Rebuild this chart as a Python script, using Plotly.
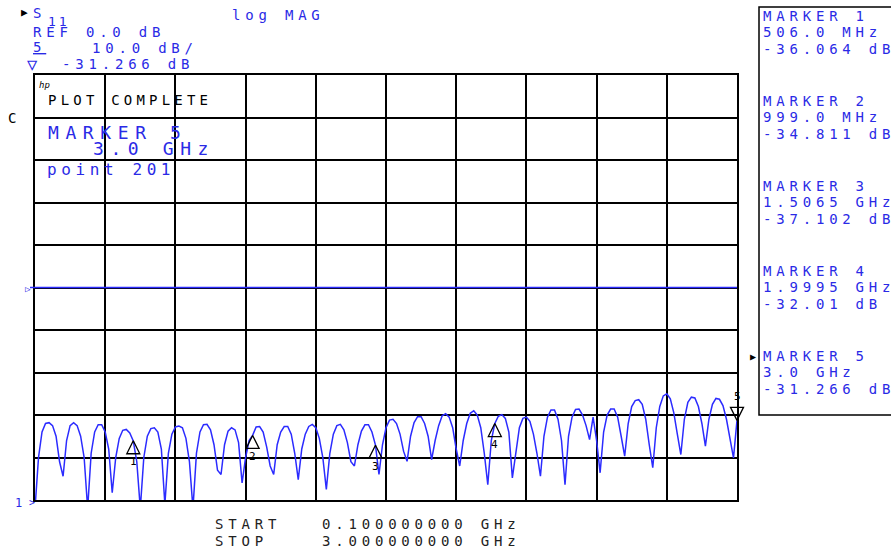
import numpy as np
import plotly.graph_objects as go

# ---------------- data ----------------
START_GHZ = 0.1
STOP_GHZ = 3.0
N_POINTS = 201
freq_ghz = np.linspace(START_GHZ, STOP_GHZ, N_POINTS)

s11_db = [
    -52, -40, -34, -32, -31.8, -32.5, -35, -41, -44.4, -36,
    -32.5, -31.8, -32.5, -35, -40, -52, -39, -34, -32.3, -32.3,
    -34, -38, -48.3, -40, -35.5, -33.6, -33.4, -34.2, -36.1, -41,
    -52, -40, -35, -33.2, -33, -34, -38, -51, -39, -34.5,
    -32.8, -32.6, -33, -35.5, -41, -52, -39, -34, -32.3, -32.2,
    -33.5, -37, -43, -44, -37, -33.8, -33, -33.5, -36.5, -46,
    -40, -36, -34.8, -32.8, -32.7, -34, -37.5, -42, -44, -37,
    -34, -32.7, -32.7, -34.5, -39, -45.2, -38, -34.5, -32.7, -32.2,
    -33, -35.5, -40, -47.5, -39, -34.5, -32.5, -32.2, -33.5, -36.5,
    -41, -42, -37, -33.8, -32.3, -32.3, -34, -37.1, -44, -37,
    -33, -31.2, -31, -32, -34.5, -38.5, -40.9, -35, -31.8, -30.4,
    -30.4, -32, -35, -40.5, -36, -32.5, -30.2, -29.7, -30.5, -33,
    -38, -42, -36, -32, -29.6, -29, -30, -33, -39, -46.4,
    -36, -32, -30.3, -29.9, -30.8, -34, -44.8, -39, -33, -30.8,
    -30.5, -31.5, -34.5, -39, -44.4, -35, -30.5, -28.8, -28.8, -31,
    -36, -46.4, -35, -30.5, -28.7, -28.6, -30, -32.5, -35.8, -30.5,
    -36, -43.6, -34, -30, -28.6, -28.6, -30.5, -35, -39.7, -32,
    -28, -26.6, -26.4, -27.5, -31, -37, -42.4, -33, -28, -25.5,
    -25, -26.2, -29.5, -34.5, -39.3, -31, -27, -25.8, -26, -28,
    -32, -37.3, -31, -27.5, -26.1, -26.3, -27.8, -31, -35.5, -40.1,
    -31.27,
]

marker_ids = ["1", "2", "3", "4", "5"]
marker_freq_ghz = [0.506, 0.999, 1.5065, 1.9995, 3.0]
marker_db = [-36.064, -34.811, -37.102, -32.01, -31.266]
marker_freq_labels = ["506.0 MHz", "999.0 MHz", "1.5065 GHz", "1.9995 GHz", "3.0 GHz"]
marker_db_labels = ["-36.064 dB", "-34.811 dB", "-37.102 dB", "-32.01 dB", "-31.266 dB"]

REF_DB = 0.0
SCALE_DB_PER_DIV = 10.0

# ---------------- style ----------------
BLUE = "#2a2ae6"
TRACE = "#2b2bff"
MONO = "DejaVu Sans Mono"
W, H = 891, 554
L, R, T, B = 35, 737, 75, 500


def px(x):
    return (x - L) / (R - L)


def py(y):
    return (B - y) / (B - T)


fig = go.Figure()

fig.add_trace(go.Scatter(x=freq_ghz, y=s11_db, mode="lines",
                         line=dict(color=TRACE, width=1.5), hoverinfo="skip"))

# markers 1-4 (arrow tip at trace point, body below)
fig.add_trace(go.Scatter(x=marker_freq_ghz[:4], y=marker_db[:4], mode="markers",
                         marker=dict(symbol="arrow-up-open", size=13, color="black",
                                     line=dict(width=1.3, color="black")),
                         cliponaxis=False, hoverinfo="skip"))
# active marker 5 (tip at trace point, body above)
fig.add_trace(go.Scatter(x=marker_freq_ghz[4:], y=marker_db[4:], mode="markers",
                         marker=dict(symbol="arrow-down-open", size=13, color="black",
                                     line=dict(width=1.3, color="black")),
                         cliponaxis=False, hoverinfo="skip"))

for i, (f, d) in enumerate(zip(marker_freq_ghz, marker_db)):
    fig.add_annotation(x=f, y=d, xref="x", yref="y", text=marker_ids[i], showarrow=False,
                       yshift=(24 if i == 4 else -21), font=dict(family=MONO, size=11, color="black"))


def txt(s, x, y, size=14, color=BLUE, sp=4.8, anchor="left"):
    fig.add_annotation(text=f'<span style="letter-spacing:{sp}px">{s}</span>',
                       x=px(x), y=py(y), xref="paper", yref="paper",
                       xanchor=anchor, yanchor="middle", showarrow=False,
                       font=dict(family=MONO, size=size, color=color))


# header
txt("\u25B6", 19, 13, size=11, color="black", sp=0)
txt("S", 31, 13)
txt("11", 46, 21, size=13, sp=3)
txt("log MAG", 230, 15)
txt(f"REF {REF_DB:.1f} dB", 31, 32)
txt('<span style="text-decoration:underline">5</span>', 31, 47)
txt(f"{SCALE_DB_PER_DIV:.1f} dB/", 90, 48)
txt("\u25BD", 25, 64, size=17, sp=0)
txt(marker_db_labels[4], 60, 64)

# left side
txt("C", 6, 118, size=14, color="black", sp=0)
txt("\u25B7", 23, 289, size=9, sp=0)
txt("1", 13, 503, size=12, sp=0)
txt("&gt;", 27, 502, size=10, sp=0)

# in-plot text
txt("<i>hp</i>", 37, 85, size=9, color="black", sp=0)
txt("PLOT COMPLETE", 46, 100, size=14, color="black", sp=4.2)
txt("MARKER " + marker_ids[4], 46, 132, size=18, sp=6.6)
txt(marker_freq_labels[4], 91, 148, size=18, sp=6.6)
txt(f"point {N_POINTS}", 45, 169, size=16, sp=4.6)

# right marker panel
row_y = [16, 101, 186, 271, 356]
for i in range(5):
    txt("MARKER " + marker_ids[i], 761, row_y[i])
    txt(marker_freq_labels[i], 761, row_y[i] + 16)
    txt(marker_db_labels[i], 761, row_y[i] + 33)
txt("\u25B6", 748, 356, size=10, color="black", sp=0)

fig.add_shape(type="rect", xref="paper", yref="paper",
              x0=px(759), x1=px(905), y0=py(415), y1=py(7),
              line=dict(color="black", width=1.5), fillcolor="rgba(0,0,0,0)", layer="above")

# footer
txt("START", 213, 524, color="#222222")
txt(f"{START_GHZ:.9f} GHz", 320, 524, color="#222222")
txt("STOP", 213, 541, color="#222222")
txt(f"{STOP_GHZ:.9f} GHz", 320, 541, color="#222222")

# reference line
fig.add_shape(type="line", xref="paper", yref="y", x0=px(30), x1=1, y0=REF_DB, y1=REF_DB,
              line=dict(color=TRACE, width=1.5), layer="above")

axis_common = dict(showgrid=True, gridcolor="black", gridwidth=1.5, showticklabels=False,
                   ticks="", showline=True, linecolor="black", linewidth=1.5, mirror=True,
                   zeroline=False, fixedrange=True)
fig.update_xaxes(range=[START_GHZ, STOP_GHZ], tick0=START_GHZ,
                 dtick=(STOP_GHZ - START_GHZ) / 10, **axis_common)
fig.update_yaxes(range=[REF_DB - 5 * SCALE_DB_PER_DIV, REF_DB + 5 * SCALE_DB_PER_DIV],
                 dtick=SCALE_DB_PER_DIV, **axis_common)

fig.update_layout(width=W, height=H, margin=dict(l=L, r=W - R, t=T, b=H - B),
                  paper_bgcolor="white", plot_bgcolor="white", showlegend=False)

fig.write_html("out.html", config={"displayModeBar": False},
               post_script="document.body.style.margin='0';document.body.style.overflow='hidden';")
